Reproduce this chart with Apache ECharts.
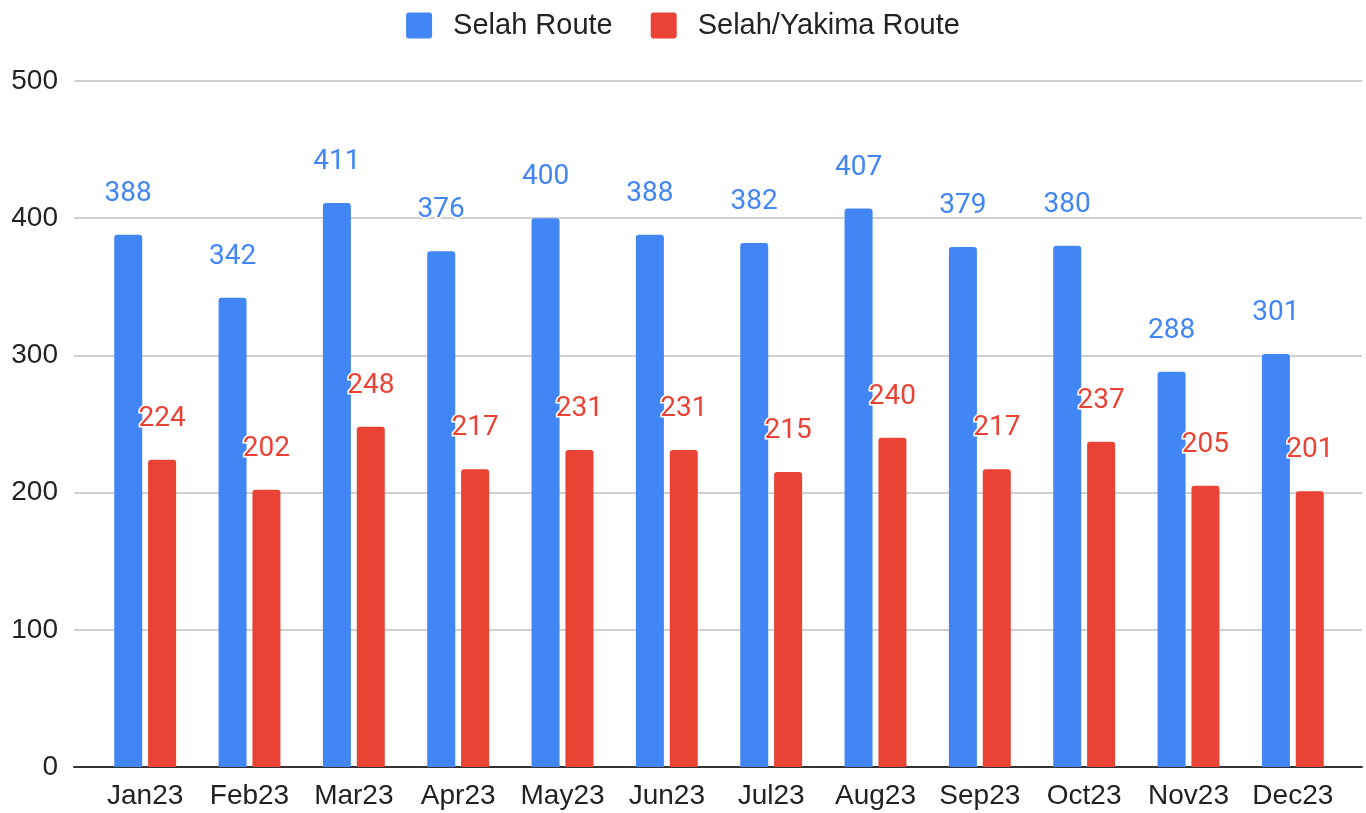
<!DOCTYPE html>
<html>
<head>
<meta charset="utf-8">
<script src="https://cdn.jsdelivr.net/npm/echarts@6/dist/echarts.min.js"></script>
<style>
  html, body { margin: 0; padding: 0; background: #fff; }
  #main { width: 1366px; height: 813px; }
</style>
</head>
<body>
<div id="main"></div>
<script>
// chart data
var months = ['Jan23', 'Feb23', 'Mar23', 'Apr23', 'May23', 'Jun23', 'Jul23', 'Aug23', 'Sep23', 'Oct23', 'Nov23', 'Dec23'];
var selahRoute = [388, 342, 411, 376, 400, 388, 382, 407, 379, 380, 288, 301];
var selahYakimaRoute = [224, 202, 248, 217, 231, 231, 215, 240, 217, 237, 205, 201];
var seriesNames = ['Selah Route', 'Selah/Yakima Route'];
var yTicks = { min: 0, max: 500, interval: 100 };

var BLUE = '#4285F4';
var RED = '#EA4335';
var FONT = 'Liberation Sans, Arial, sans-serif';
var SQUARE = 'path://M3,0 H23 Q26,0 26,3 V23 Q26,26 23,26 H3 Q0,26 0,23 V3 Q0,0 3,0 Z';

var chart = echarts.init(document.getElementById('main'));

function barLabel(color) {
  return {
    show: true,
    position: 'top',
    distance: 27,
    color: color,
    fontFamily: 'Roboto, sans-serif',
    fontSize: 28,
    textBorderColor: '#fff',
    textBorderWidth: 3
  };
}

var option = {
  animation: false,
  legend: {
    top: 6,
    left: 'center',
    itemWidth: 26,
    itemHeight: 26,
    itemGap: 38,
    icon: SQUARE,
    textStyle: { fontFamily: FONT, fontSize: 29, color: '#222', padding: [0, 0, 0, 16] },
    data: seriesNames
  },
  // grid 0 draws the gridlines and y labels, grid 1 holds the bars
  grid: [
    { left: 74, right: 4, top: 81, bottom: 46 },
    { left: 93, right: 21, top: 81, bottom: 46 }
  ],
  xAxis: [
    {
      type: 'category',
      gridIndex: 0,
      data: months,
      axisLine: { show: true, lineStyle: { color: '#333', width: 2 } },
      axisTick: { show: false },
      axisLabel: { show: false }
    },
    {
      type: 'category',
      gridIndex: 1,
      data: months,
      axisLine: { show: false },
      axisTick: { show: false },
      axisLabel: { interval: 0, color: '#222', fontFamily: FONT, fontSize: 28, margin: 15 }
    }
  ],
  yAxis: [
    {
      type: 'value',
      gridIndex: 0,
      min: yTicks.min,
      max: yTicks.max,
      interval: yTicks.interval,
      axisLine: { show: false },
      axisTick: { show: false },
      axisLabel: { color: '#222', fontFamily: FONT, fontSize: 28, margin: 16 },
      splitLine: { lineStyle: { color: '#d0d0d0', width: 2 } }
    },
    {
      type: 'value',
      gridIndex: 1,
      min: yTicks.min,
      max: yTicks.max,
      interval: yTicks.interval,
      axisLine: { show: false },
      axisTick: { show: false },
      axisLabel: { show: false },
      splitLine: { show: false }
    }
  ],
  series: [
    {
      name: seriesNames[0],
      type: 'bar',
      xAxisIndex: 1,
      yAxisIndex: 1,
      data: selahRoute,
      barWidth: 28,
      barGap: '21%',
      itemStyle: { color: BLUE, borderRadius: [3, 3, 0, 0] },
      label: barLabel(BLUE)
    },
    {
      name: seriesNames[1],
      type: 'bar',
      xAxisIndex: 1,
      yAxisIndex: 1,
      data: selahYakimaRoute,
      barWidth: 28,
      itemStyle: { color: RED, borderRadius: [3, 3, 0, 0] },
      label: barLabel(RED)
    }
  ]
};

chart.setOption(option);
</script>
</body>
</html>
